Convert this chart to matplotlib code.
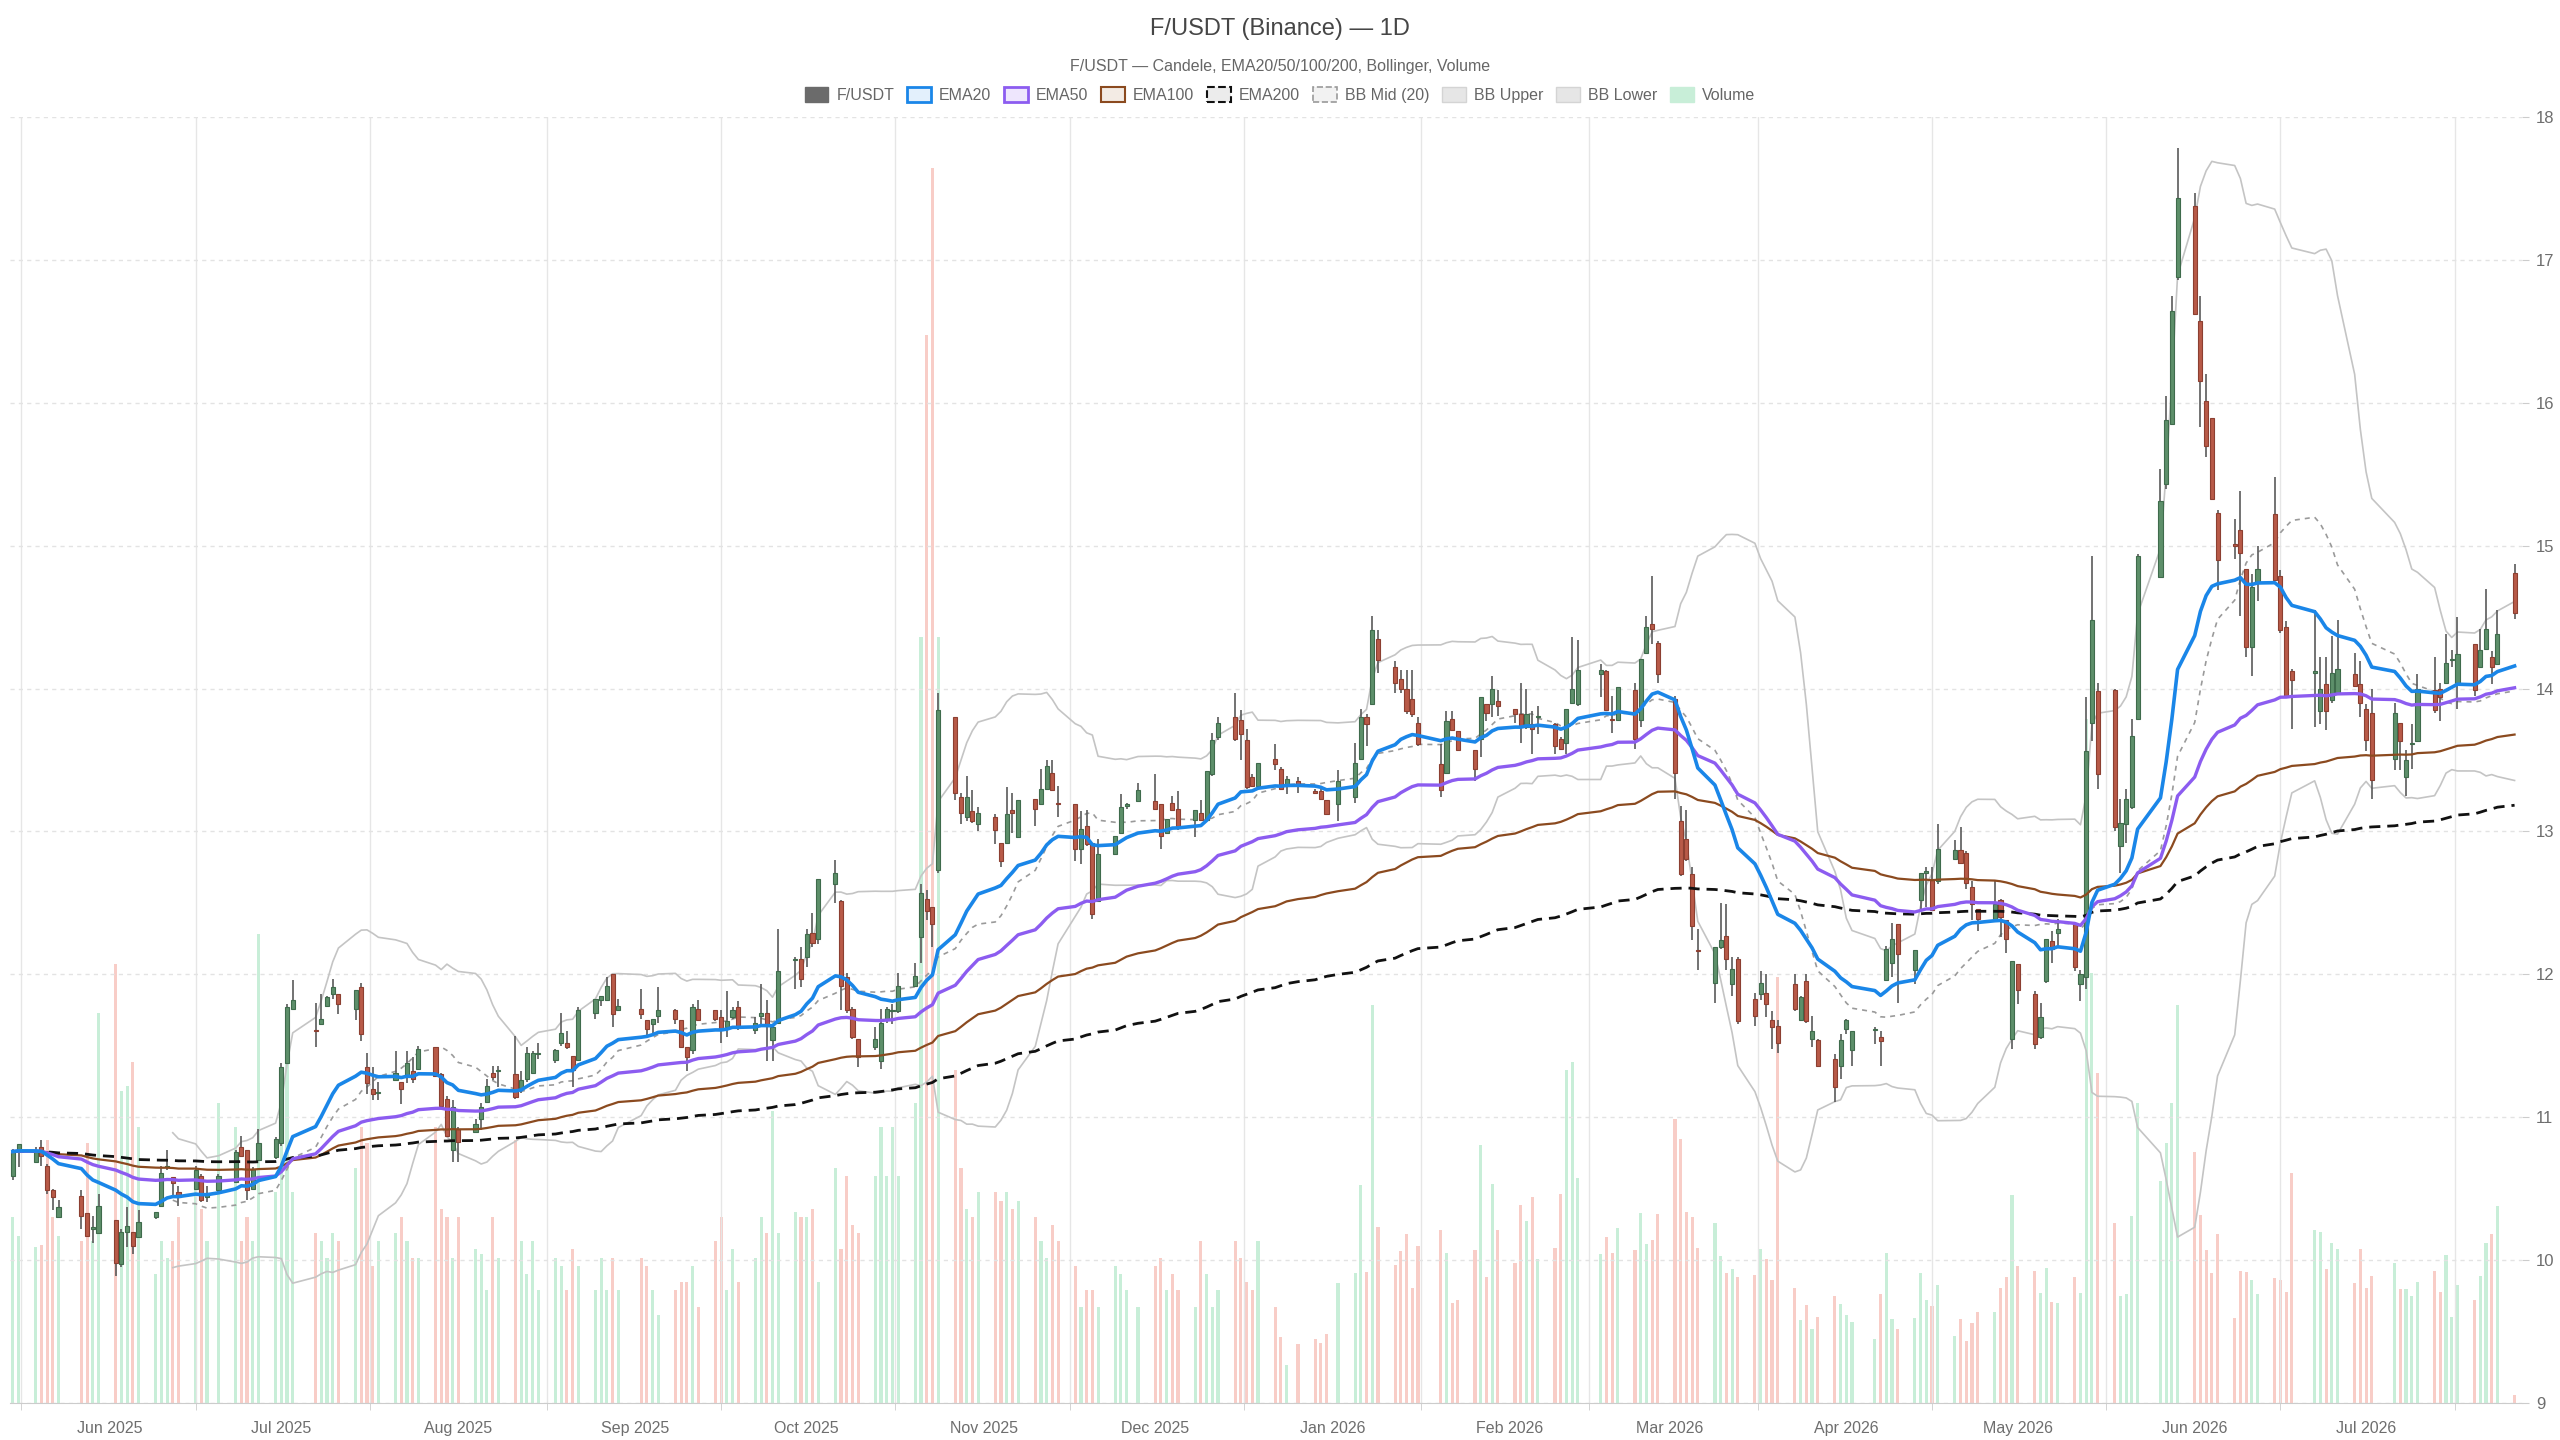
import numpy as np
import pandas as pd
import matplotlib
matplotlib.use('Agg')
import matplotlib.pyplot as plt
from matplotlib.patches import Patch

plt.rcParams['font.family'] = ['Liberation Sans', 'DejaVu Sans']

# trading days (NYSE holidays removed)
holidays = ['2025-05-26', '2025-06-19', '2025-07-04', '2025-09-01', '2025-11-27',
            '2025-12-25', '2026-01-01', '2026-01-19', '2026-02-16', '2026-04-03',
            '2026-05-25', '2026-06-19', '2026-07-03']
dates = pd.bdate_range('2025-05-15', '2026-07-27', freq='C', holidays=holidays)

opens = [
    10.59, 10.77,
    10.69, 10.79, 10.66, 10.49, 10.30,
    10.45, 10.33, 10.22, 10.19,
    10.28, 9.97, 10.20, 10.20, 10.16,
    10.30, 10.38, 10.65, 10.58, 10.48,
    10.50, 10.59, 10.44, 10.49,
    10.55, 10.79, 10.77, 10.50, 10.70,
    10.72, 10.82, 11.38, 11.76,
    11.61, 11.65, 11.78, 11.86, 11.86,
    11.76, 11.91, 11.35, 11.20, 11.17,
    11.26, 11.25, 11.28, 11.32, 11.34,
    11.49, 11.30, 11.13, 10.77, 10.92,
    10.90, 10.99, 11.11, 11.31, 11.32,
    11.30, 11.20, 11.27, 11.31, 11.44,
    11.40, 11.52, 11.52, 11.43, 11.40,
    11.73, 11.82, 11.82, 12.00, 11.75,
    11.76, 11.68, 11.65, 11.71,
    11.75, 11.68, 11.49, 11.47, 11.76,
    11.75, 11.70, 11.63, 11.70, 11.77,
    11.61, 11.71, 11.73, 11.54, 11.66,
    12.10, 12.11, 12.12, 12.29, 12.25,
    12.63, 12.51, 11.98, 11.76, 11.55,
    11.49, 11.39, 11.69, 11.74, 11.74,
    11.92, 12.26, 12.53, 12.47, 12.73,
    13.80, 13.24, 13.10, 13.14, 13.05,
    13.10, 12.92, 12.92, 13.15, 12.96,
    13.23, 13.19, 13.30, 13.41, 13.20,
    13.19, 12.88, 13.04, 12.92, 12.51,
    12.84, 12.99, 13.18, 13.21,
    13.21, 13.19, 12.99, 13.20, 13.16,
    13.08, 13.13, 13.08, 13.40, 13.66,
    13.80, 13.78, 13.64, 13.38, 13.32,
    13.51, 13.44, 13.32, 13.35,
    13.28, 13.28, 13.22, 13.19,
    13.24, 13.51, 13.80, 13.89, 14.35,
    14.15, 14.07, 14.00, 13.93, 13.76,
    13.47, 13.41, 13.79, 13.70,
    13.57, 13.65, 13.89, 13.89, 13.91,
    13.86, 13.82, 13.73, 13.75, 13.80,
    13.75, 13.65, 13.62, 13.90, 13.89,
    14.10, 14.12, 13.79, 13.78,
    13.99, 13.78, 14.25, 14.45, 14.32,
    13.93, 13.07, 12.95, 12.70, 12.17,
    11.94, 12.19, 12.27, 11.93, 12.11,
    11.83, 11.86, 11.87, 11.68, 11.64,
    11.93, 11.68, 11.95, 11.55, 11.54,
    11.41, 11.36, 11.62, 11.47,
    11.61, 11.56, 11.96, 12.08, 12.35,
    12.03, 12.52, 12.71, 12.67, 12.65,
    12.81, 12.87, 12.85, 12.61, 12.46,
    12.39, 12.52, 12.38, 11.55, 12.07,
    11.86, 11.56, 11.95, 12.23, 12.29,
    12.35, 11.93, 11.98, 13.76, 13.98,
    13.99, 12.90, 13.05, 13.17, 13.79,
    14.78, 15.43, 15.85, 16.88,
    17.38, 16.57, 16.01, 15.89, 15.23,
    15.01, 15.11, 14.84, 14.29, 14.74,
    15.22, 14.79, 14.43, 14.12,
    14.11, 13.84, 14.03, 13.92, 13.97,
    14.10, 14.03, 13.86, 13.83,
    13.51, 13.76, 13.38, 13.61, 13.63,
    13.99, 14.00, 14.04, 14.20, 14.04,
    14.31, 14.15, 14.28, 14.22, 14.17,
    14.81,
]

highs = [
    10.78, 10.81,
    10.79, 10.84, 10.67, 10.50, 10.42,
    10.49, 10.33, 10.31, 10.46,
    10.28, 10.22, 10.37, 10.20, 10.35,
    10.34, 10.66, 10.77, 10.58, 10.52,
    10.66, 10.60, 10.52, 10.60,
    10.77, 10.87, 10.77, 10.65, 10.92,
    10.86, 11.38, 11.79, 11.96,
    11.80, 11.86, 11.85, 11.97, 11.86,
    11.89, 11.94, 11.45, 11.35, 11.25,
    11.46, 11.25, 11.46, 11.42, 11.50,
    11.49, 11.31, 11.15, 11.12, 10.93,
    10.99, 11.10, 11.27, 11.36, 11.36,
    11.57, 11.32, 11.49, 11.46, 11.52,
    11.48, 11.73, 11.60, 11.43, 11.77,
    11.83, 11.85, 11.98, 12.00, 11.83,
    11.90, 11.68, 11.69, 11.91,
    11.76, 11.68, 11.49, 11.79, 11.82,
    11.75, 11.75, 11.88, 11.77, 11.81,
    11.70, 11.93, 11.82, 11.64, 12.32,
    12.12, 12.19, 12.32, 12.43, 12.67,
    12.80, 12.52, 12.01, 11.77, 11.55,
    11.63, 11.76, 11.77, 11.79, 12.01,
    12.08, 12.63, 12.59, 12.47, 13.97,
    13.80, 13.27, 13.39, 13.29, 13.17,
    13.12, 12.92, 13.31, 13.27, 13.22,
    13.23, 13.44, 13.50, 13.50, 13.32,
    13.19, 13.14, 13.15, 12.92, 12.95,
    12.97, 13.26, 13.20, 13.34,
    13.40, 13.19, 13.09, 13.25, 13.28,
    13.15, 13.22, 13.42, 13.69, 13.80,
    13.97, 13.85, 13.72, 13.40, 13.48,
    13.61, 13.45, 13.39, 13.38,
    13.30, 13.30, 13.22, 13.43,
    13.62, 13.86, 13.82, 14.51, 14.41,
    14.19, 14.13, 14.13, 14.13, 13.80,
    13.61, 13.84, 13.84, 13.70,
    13.57, 13.94, 13.89, 14.09, 13.99,
    13.86, 14.04, 14.00, 13.84, 13.88,
    13.76, 13.66, 13.86, 14.36, 14.34,
    14.17, 14.13, 13.95, 14.01,
    14.04, 14.21, 14.51, 14.79, 14.33,
    13.95, 13.18, 13.15, 12.75, 12.32,
    12.19, 12.50, 12.49, 12.12, 12.12,
    11.87, 12.02, 12.00, 11.74, 11.68,
    12.00, 11.85, 12.00, 11.71, 11.55,
    11.44, 11.58, 11.69, 11.60,
    11.63, 11.60, 12.20, 12.36, 12.35,
    12.17, 12.71, 12.75, 12.75, 13.05,
    12.94, 13.03, 12.86, 12.65, 12.46,
    12.66, 12.53, 12.38, 12.09, 12.07,
    11.88, 11.80, 12.25, 12.30, 12.39,
    12.35, 12.03, 13.94, 14.93, 14.04,
    14.00, 13.23, 13.30, 13.79, 14.94,
    15.54, 16.05, 16.75, 17.78,
    17.47, 16.75, 16.20, 15.89, 15.25,
    15.19, 15.38, 14.84, 14.80, 15.00,
    15.48, 14.83, 14.47, 14.14,
    14.55, 14.22, 14.22, 14.37, 14.48,
    14.25, 14.19, 13.89, 14.00,
    13.90, 13.76, 13.57, 13.75, 14.10,
    14.22, 14.04, 14.38, 14.27, 14.50,
    14.31, 14.42, 14.70, 14.26, 14.55,
    14.87,
]

lows = [
    10.56, 10.65,
    10.68, 10.66, 10.46, 10.35, 10.30,
    10.22, 10.16, 10.12, 10.18,
    9.89, 9.95, 10.09, 10.04, 10.16,
    10.29, 10.37, 10.63, 10.44, 10.38,
    10.49, 10.41, 10.41, 10.48,
    10.54, 10.73, 10.42, 10.49, 10.70,
    10.71, 10.80, 11.37, 11.75,
    11.49, 11.65, 11.77, 11.83, 11.72,
    11.68, 11.53, 11.16, 11.12, 11.12,
    11.26, 11.09, 11.24, 11.24, 11.34,
    11.28, 11.07, 10.86, 10.69, 10.69,
    10.89, 10.91, 11.10, 11.26, 11.21,
    11.13, 11.17, 11.25, 11.30, 11.41,
    11.38, 11.50, 11.48, 11.21, 11.40,
    11.69, 11.78, 11.82, 11.63, 11.74,
    11.69, 11.57, 11.59, 11.66,
    11.65, 11.49, 11.32, 11.44, 11.68,
    11.67, 11.52, 11.56, 11.69, 11.61,
    11.58, 11.64, 11.39, 11.39, 11.66,
    11.90, 11.91, 12.05, 12.19, 12.21,
    12.50, 11.75, 11.73, 11.55, 11.35,
    11.47, 11.34, 11.66, 11.65, 11.73,
    11.91, 12.08, 12.38, 12.19, 12.71,
    13.22, 13.05, 13.07, 13.06, 13.00,
    12.91, 12.75, 12.91, 12.99, 12.96,
    13.04, 13.19, 13.30, 13.28, 13.10,
    12.79, 12.77, 12.90, 12.39, 12.51,
    12.84, 12.99, 13.16, 13.21,
    13.16, 12.88, 12.98, 13.14, 13.01,
    12.96, 13.07, 13.08, 13.39, 13.64,
    13.63, 13.50, 13.30, 13.31, 13.30,
    13.43, 13.29, 13.26, 13.27,
    13.26, 13.22, 13.12, 13.07,
    13.20, 13.51, 13.60, 13.89, 14.11,
    13.97, 13.97, 13.82, 13.80, 13.60,
    13.24, 13.41, 13.71, 13.56,
    13.35, 13.52, 13.77, 13.80, 13.81,
    13.76, 13.62, 13.72, 13.54, 13.68,
    13.54, 13.57, 13.54, 13.89, 13.88,
    13.94, 13.84, 13.69, 13.78,
    13.58, 13.73, 14.25, 14.31, 14.04,
    13.23, 12.69, 12.79, 12.24, 12.03,
    11.80, 12.18, 12.03, 11.85, 11.65,
    11.64, 11.82, 11.70, 11.48, 11.45,
    11.74, 11.67, 11.66, 11.49, 11.36,
    11.11, 11.27, 11.58, 11.36,
    11.51, 11.36, 11.95, 11.98, 11.80,
    11.93, 12.45, 12.47, 12.44, 12.63,
    12.80, 12.77, 12.60, 12.38, 12.30,
    12.38, 12.26, 12.15, 11.48, 11.79,
    11.48, 11.55, 11.94, 12.08, 12.19,
    12.02, 11.81, 11.90, 13.63, 13.30,
    13.00, 12.71, 12.92, 13.16, 13.78,
    14.78, 15.40, 15.85, 16.86,
    16.62, 15.83, 15.62, 15.32, 14.69,
    14.91, 14.51, 14.22, 14.09, 14.61,
    14.76, 14.39, 13.94, 13.72,
    13.73, 13.75, 13.71, 13.90, 13.97,
    14.02, 13.80, 13.56, 13.23,
    13.43, 13.43, 13.25, 13.44, 13.63,
    13.83, 13.77, 14.04, 14.15, 13.86,
    13.95, 14.15, 14.27, 14.03, 14.17,
    14.49,
]

closes = [
    10.76, 10.81,
    10.76, 10.73, 10.49, 10.44, 10.37,
    10.31, 10.17, 10.23, 10.38,
    9.98, 10.20, 10.24, 10.10, 10.27,
    10.34, 10.61, 10.66, 10.54, 10.44,
    10.63, 10.42, 10.46, 10.59,
    10.76, 10.73, 10.49, 10.64, 10.82,
    10.85, 11.35, 11.77, 11.82,
    11.60, 11.69, 11.84, 11.91, 11.79,
    11.89, 11.58, 11.24, 11.16, 11.18,
    11.31, 11.20, 11.38, 11.27, 11.48,
    11.29, 11.08, 10.87, 11.07, 10.83,
    10.95, 11.07, 11.22, 11.28, 11.33,
    11.14, 11.26, 11.45, 11.45, 11.45,
    11.47, 11.59, 11.49, 11.33, 11.75,
    11.83, 11.85, 11.92, 11.72, 11.78,
    11.72, 11.62, 11.69, 11.75,
    11.69, 11.49, 11.42, 11.77, 11.68,
    11.69, 11.61, 11.67, 11.75, 11.63,
    11.66, 11.73, 11.64, 11.63, 12.02,
    12.11, 11.97, 12.28, 12.22, 12.67,
    12.71, 11.92, 11.75, 11.56, 11.42,
    11.55, 11.66, 11.76, 11.74, 11.92,
    11.99, 12.57, 12.44, 12.35, 13.85,
    13.27, 13.13, 13.24, 13.07, 13.13,
    13.01, 12.79, 13.12, 13.13, 13.22,
    13.16, 13.30, 13.46, 13.29, 13.19,
    12.88, 13.02, 12.91, 12.42, 12.84,
    12.97, 13.17, 13.19, 13.29,
    13.16, 12.97, 13.09, 13.15, 13.04,
    13.15, 13.08, 13.42, 13.64, 13.76,
    13.65, 13.68, 13.31, 13.32, 13.48,
    13.47, 13.30, 13.37, 13.33,
    13.27, 13.23, 13.12, 13.35,
    13.48, 13.80, 13.75, 14.41, 14.20,
    14.04, 14.00, 13.84, 13.82, 13.61,
    13.29, 13.77, 13.71, 13.57,
    13.44, 13.94, 13.83, 14.00, 13.88,
    13.82, 13.73, 13.82, 13.72, 13.81,
    13.60, 13.58, 13.86, 14.00, 14.13,
    14.13, 13.85, 13.78, 14.01,
    13.65, 14.21, 14.43, 14.42, 14.10,
    13.41, 12.70, 12.81, 12.34, 12.16,
    12.19, 12.24, 12.11, 12.04, 11.67,
    11.71, 11.94, 11.79, 11.63, 11.52,
    11.76, 11.84, 11.67, 11.60, 11.36,
    11.21, 11.54, 11.68, 11.60,
    11.62, 11.53, 12.18, 12.25, 12.14,
    12.17, 12.71, 12.72, 12.45, 12.88,
    12.87, 12.78, 12.64, 12.49, 12.39,
    12.49, 12.40, 12.25, 12.09, 11.89,
    11.51, 11.70, 12.25, 12.18, 12.32,
    12.05, 12.00, 13.56, 14.48, 13.40,
    13.03, 13.06, 13.23, 13.67, 14.93,
    15.31, 15.88, 16.64, 17.43,
    16.62, 16.15, 15.70, 15.33, 14.90,
    15.00, 14.95, 14.29, 14.71, 14.84,
    14.76, 14.41, 13.95, 14.06,
    14.12, 14.00, 13.84, 14.11, 14.14,
    14.02, 13.90, 13.64, 13.36,
    13.83, 13.63, 13.50, 13.62, 14.00,
    13.85, 13.94, 14.18, 14.21, 14.24,
    13.99, 14.27, 14.42, 14.15, 14.38,
    14.53,
]

volumes = [
    186, 167,
    156, 158, 263, 186, 167,
    162, 260, 162, 390,
    439, 312, 317, 341, 276,
    129, 162, 145, 162, 186,
    227, 194, 162, 300,
    276, 162, 186, 162, 469,
    211, 276, 374, 211,
    170, 162, 145, 170, 162,
    235, 276, 260, 137, 162,
    170, 186, 162, 145, 145,
    276, 194, 186, 145, 186,
    154, 149, 113, 186, 145,
    263, 162, 129, 162, 113,
    145, 137, 113, 154, 137,
    113, 145, 113, 145, 113,
    145, 137, 113, 88,
    113, 121, 121, 137, 96,
    162, 186, 113, 154, 121,
    145, 186, 170, 292, 170,
    191, 186, 186, 194, 121,
    235, 154, 227, 178, 170,
    227, 276, 227, 276, 227,
    300, 766, 1068, 1235, 766,
    333, 235, 194, 186, 211,
    211, 202, 211, 194, 202,
    186, 162, 145, 178, 162,
    137, 96, 113, 113, 96,
    137, 129, 113, 96,
    137, 145, 113, 129, 113,
    96, 162, 129, 96, 113,
    162, 145, 121, 113, 162,
    96, 66, 38, 59,
    64, 60, 69, 120,
    130, 218, 131, 398, 176,
    138, 152, 169, 115, 157,
    173, 150, 100, 103,
    153, 258, 126, 219, 173,
    140, 198, 182, 206, 144,
    155, 209, 333, 341, 225,
    149, 166, 150, 175,
    153, 190, 159, 163, 189,
    284, 264, 191, 186, 155,
    180, 147, 130, 134, 126,
    128, 154, 144, 123, 426,
    115, 83, 98, 74, 86,
    107, 99, 88, 81,
    64, 109, 150, 84, 74,
    85, 130, 103, 97, 118,
    67, 84, 62, 80, 91,
    91, 115, 126, 208, 137,
    132, 110, 135, 101, 100,
    126, 110, 684, 430, 330,
    180, 107, 109, 187, 300,
    222, 260, 300, 398,
    251, 188, 153, 130, 169,
    85, 132, 131, 123, 109,
    125, 123, 111, 230,
    173, 171, 134, 160, 154,
    120, 154, 115, 127,
    140, 114, 114, 107, 121,
    132, 111, 148, 86, 118,
    103, 127, 160, 169, 197,
    8,
]

df = pd.DataFrame({'open': opens, 'high': highs, 'low': lows,
                   'close': closes, 'volume': volumes}, index=dates)

# indicators
for n in (20, 50, 100, 200):
    df[f'ema{n}'] = df['close'].ewm(span=n, adjust=False).mean()
df['bb_mid'] = df['close'].rolling(20).mean()
bb_std = df['close'].rolling(20).std(ddof=0)
df['bb_up'] = df['bb_mid'] + 2 * bb_std
df['bb_lo'] = df['bb_mid'] - 2 * bb_std

t0 = dates[0]
x = np.array((dates - t0).days, dtype=float)
up = df['close'].values >= df['open'].values

fig = plt.figure(figsize=(25.6, 14.4), dpi=100)
rect = [10 / 2560, 37 / 1440, 2512 / 2560, 1286 / 1440]

# volume underneath
axv = fig.add_axes(rect)
axv.bar(x, df['volume'], width=0.55,
        color=np.where(up, '#c8eed8', '#f8cdc7'), zorder=1)
axv.set_ylim(0, df['volume'].max() / 0.96)
axv.set_xlim(-0.5, 439.3)
axv.axis('off')

ax = fig.add_axes(rect)
ax.patch.set_alpha(0)

# grid
month_starts = pd.date_range('2025-05-01', '2026-08-01', freq='MS')
mids = [(a + (b - a) / 2 - t0).total_seconds() / 86400
        for a, b in zip(month_starts[:-1], month_starts[1:])]
for m in mids:
    ax.axvline(m, color='#e6e6e6', lw=1, zorder=0)
for yv in range(9, 19):
    ax.axhline(yv, color='#e3e3e3', lw=1, ls=(0, (3, 3)), zorder=0)

# bollinger
ax.plot(x, df['bb_up'], color='#c4c4c4', lw=1.2, zorder=2)
ax.plot(x, df['bb_lo'], color='#c4c4c4', lw=1.2, zorder=2)
ax.plot(x, df['bb_mid'], color='#9a9a9a', lw=1.2, ls=(0, (3, 3)), zorder=2)

# candles
ax.vlines(x, df['low'], df['high'], color='#5a5a5a', lw=1.2, zorder=3)
body_lo = np.minimum(df['open'], df['close'])
body_h = np.maximum(np.abs(df['close'] - df['open']), 0.01)
ax.bar(x, body_h, bottom=body_lo, width=0.72,
       color=np.where(up, '#5d8f6a', '#b85a48'),
       edgecolor=np.where(up, '#3f6b4c', '#8c3f31'), linewidth=0.8, zorder=4)

# EMAs
ax.plot(x, df['ema100'], color='#8b4a1f', lw=1.6, zorder=5)
ax.plot(x, df['ema200'], color='#111111', lw=2.0, ls=(0, (4, 2.5)), zorder=5)
ax.plot(x, df['ema50'], color='#8c5cf0', lw=2.4, zorder=6)
ax.plot(x, df['ema20'], color='#1a86e8', lw=2.6, zorder=7)

ax.set_xlim(-0.5, 439.3)
ax.set_ylim(9, 18)
ax.set_yticks(range(9, 19))
ax.yaxis.tick_right()
ax.tick_params(axis='y', length=5, color='#cccccc', labelcolor='#6e6e6e',
               labelsize=12, pad=5)

label_months = pd.date_range('2025-06-01', '2026-07-01', freq='MS')
ax.set_xticks([(d - t0).days for d in label_months])
ax.set_xticklabels([d.strftime('%b %Y') for d in label_months])
ax.tick_params(axis='x', length=0, labelcolor='#6e6e6e', labelsize=11.5, pad=13)
ax.set_xticks(mids, minor=True)
ax.tick_params(axis='x', which='minor', length=5, color='#cccccc')

for s in ('top', 'left', 'right'):
    ax.spines[s].set_visible(False)
ax.spines['bottom'].set_color('#cccccc')

fig.text(0.5, 1 - 29 / 1440, 'F/USDT (Binance) — 1D', ha='center', va='center',
         fontsize=17, color='#464646')
fig.text(0.5, 1 - 66 / 1440, 'F/USDT — Candele, EMA20/50/100/200, Bollinger, Volume',
         ha='center', va='center', fontsize=11.5, color='#666666')

handles = [
    Patch(facecolor='#6b6b6b', edgecolor='#6b6b6b'),
    Patch(facecolor='#e3f0fc', edgecolor='#1a86e8', lw=2),
    Patch(facecolor='#eee6fd', edgecolor='#8c5cf0', lw=2),
    Patch(facecolor='#f3ebe4', edgecolor='#8b4a1f', lw=1.5),
    Patch(facecolor='#ececec', edgecolor='#111111', lw=1.5, ls='--'),
    Patch(facecolor='#f2f2f2', edgecolor='#9a9a9a', lw=1.2, ls='--'),
    Patch(facecolor='#e6e6e6', edgecolor='#d4d4d4', lw=1),
    Patch(facecolor='#e6e6e6', edgecolor='#d4d4d4', lw=1),
    Patch(facecolor='#c8eed8', edgecolor='#c8eed8'),
]
labels = ['F/USDT', 'EMA20', 'EMA50', 'EMA100', 'EMA200', 'BB Mid (20)',
          'BB Upper', 'BB Lower', 'Volume']
fig.legend(handles, labels, loc='center', bbox_to_anchor=(0.5, 1 - 95 / 1440),
           ncol=9, frameon=False, fontsize=11.5, labelcolor='#666666',
           handlelength=1.5, handleheight=1.1, handletextpad=0.5,
           columnspacing=0.8)

fig.savefig('out.png', dpi=100)
